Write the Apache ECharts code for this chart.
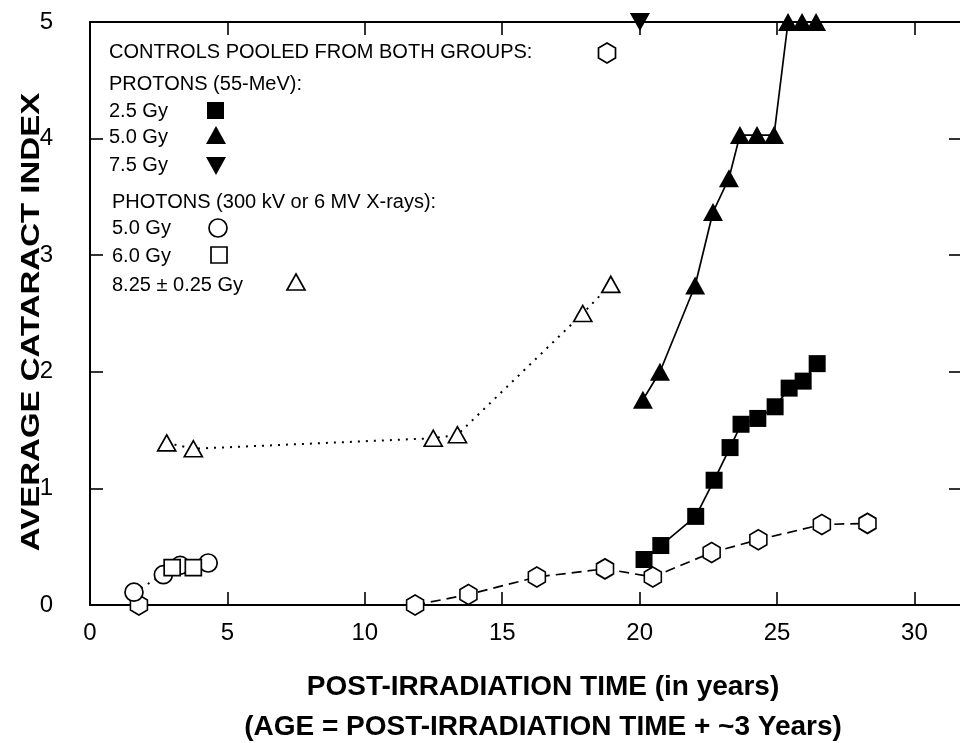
<!DOCTYPE html>
<html><head><meta charset="utf-8">
<script src="https://cdn.jsdelivr.net/npm/echarts@6/dist/echarts.min.js"></script>
<style>html,body{margin:0;padding:0;background:#fff}#c{width:960px;height:743px}</style>
</head><body><div id="c"></div>
<script>
// ---- data ----
const xTicks = [0, 5, 10, 15, 20, 25, 30];
const yTicks = [0, 1, 2, 3, 4, 5];

const controlsEarlyX = [1.78];
const controlsEarlyY = [0.0];
const controlsX = [11.83, 13.77, 16.26, 18.74, 20.48, 22.62, 24.32, 26.63, 28.29];
const controlsY = [0.0, 0.09, 0.24, 0.31, 0.24, 0.45, 0.56, 0.69, 0.70];

const proton25X = [20.16, 20.77, 22.04, 22.71, 23.29, 23.69, 24.30, 24.93, 25.44, 25.95, 26.46];
const proton25Y = [0.39, 0.51, 0.76, 1.07, 1.35, 1.55, 1.60, 1.70, 1.86, 1.92, 2.07];

const proton50X = [20.12, 20.74, 22.02, 22.67, 23.25, 23.65, 24.27, 24.89, 25.40, 25.91, 26.42];
const proton50Y = [1.76, 2.00, 2.74, 3.37, 3.66, 4.03, 4.03, 4.03, 5.0, 5.0, 5.0];

const proton75X = [20.01];
const proton75Y = [5.0];

const photon50X = [1.60, 2.67, 3.28, 4.30];
const photon50Y = [0.11, 0.26, 0.34, 0.36];

const photon60X = [2.99, 3.76];
const photon60Y = [0.32, 0.32];

const photon825X = [2.79, 3.76, 12.49, 13.37, 17.93, 18.95];
const photon825Y = [1.39, 1.34, 1.43, 1.46, 2.50, 2.75];

const legendLines = [
  'CONTROLS POOLED FROM BOTH GROUPS:',
  'PROTONS (55-MeV):',
  '2.5 Gy', '5.0 Gy', '7.5 Gy',
  'PHOTONS (300 kV or 6 MV X-rays):',
  '5.0 Gy', '6.0 Gy', '8.25 \u00b1 0.25 Gy'
];
const xTitle1 = 'POST-IRRADIATION TIME (in years)';
const xTitle2 = '(AGE = POST-IRRADIATION TIME + ~3 Years)';
const yTitle = 'AVERAGE CATARACT INDEX';

// ---- helpers ----
const zip = (xs, ys) => xs.map((x, i) => [x, ys[i]]);
const HEX = 'path://M0,-10 L8.66,-5 L8.66,5 L0,10 L-8.66,5 L-8.66,-5 Z';
const FONT = '"Liberation Sans", Arial, Helvetica, sans-serif';
const openStyle = { color: '#fff', borderColor: '#000', borderWidth: 1.7 };
const fillStyle = { color: '#000', borderColor: '#000', borderWidth: 0 };

function lineSeries(name, data, symbol, size, itemStyle, lineType, showLine, lw) {
  return {
    name, type: 'line', data, symbol, symbolSize: size, clip: false,
    showSymbol: true, itemStyle,
    lineStyle: showLine === false ? { width: 0, opacity: 0 } : { color: '#000', width: lw || 1.7, type: lineType },
    emphasis: { disabled: true }, animation: false, z: 3
  };
}

const chart = echarts.init(document.getElementById('c'), null, { renderer: 'canvas' });

function axisBase(showLine) {
  return {
    type: 'value', min: 0,
    axisLine: { show: showLine !== false, onZero: false, lineStyle: { color: '#000', width: 2 } },
    axisTick: { show: true, inside: true, length: 13, lineStyle: { color: '#000', width: 1.6 } },
    splitLine: { show: false }
  };
}

// legend graphics
const lx = 109, lx2 = 112;
const rows = [53, 85, 112, 138, 166, 203, 229, 257, 286];
const g = [];
legendLines.forEach((t, i) => {
  g.push({ type: 'text', left: i >= 5 ? lx2 : lx, top: rows[i] - 11,
    style: { text: t, font: '20px ' + FONT, fill: '#000' } });
});
function hexPoints(cx, cy, w, h) {
  return [[cx, cy - h / 2], [cx + w / 2, cy - h / 4], [cx + w / 2, cy + h / 4], [cx, cy + h / 2], [cx - w / 2, cy + h / 4], [cx - w / 2, cy - h / 4]];
}
g.push({ type: 'polygon', shape: { points: hexPoints(607, 53, 17, 20) }, style: { fill: '#fff', stroke: '#000', lineWidth: 1.7 } });
g.push({ type: 'rect', shape: { x: 207, y: 102, width: 17, height: 17 }, style: { fill: '#000' } });
g.push({ type: 'polygon', shape: { points: [[216, 126], [226, 144], [206, 144]] }, style: { fill: '#000' } });
g.push({ type: 'polygon', shape: { points: [[206, 157], [226, 157], [216, 175]] }, style: { fill: '#000' } });
g.push({ type: 'circle', shape: { cx: 218, cy: 228, r: 9 }, style: { fill: '#fff', stroke: '#000', lineWidth: 1.7 } });
g.push({ type: 'rect', shape: { x: 211, y: 247, width: 16, height: 16 }, style: { fill: '#fff', stroke: '#000', lineWidth: 1.7 } });
g.push({ type: 'polygon', shape: { points: [[296, 274], [305, 290], [287, 290]] }, style: { fill: '#fff', stroke: '#000', lineWidth: 1.7 } });
// axis titles
g.push({ type: 'text', x: 543, y: 673, style: { text: xTitle1, font: 'bold 28px ' + FONT, fill: '#000', align: 'center' } });
g.push({ type: 'text', x: 543, y: 713, style: { text: xTitle2, font: 'bold 28px ' + FONT, fill: '#000', align: 'center' } });
g.push({ type: 'text', x: 19, y: 322, rotation: Math.PI / 2, scaleY: 0.8,
  style: { text: yTitle, font: 'bold 33px ' + FONT, fill: '#000', align: 'center', verticalAlign: 'top' } });

const option = {
  backgroundColor: '#fff',
  animation: false,
  grid: { left: 90, top: 22, width: 872, height: 583, containLabel: false, outerBoundsMode: 'none' },
  xAxis: [
    Object.assign(axisBase(), { position: 'bottom', max: 31.73, interval: 5,
      axisLabel: { show: true, margin: 16, fontSize: 24, color: '#000', fontFamily: FONT,
        formatter: v => xTicks.indexOf(v) >= 0 ? String(v) : '' } }),
    Object.assign(axisBase(), { position: 'top', max: 31.73, interval: 5, axisLabel: { show: false } })
  ],
  yAxis: [
    Object.assign(axisBase(), { position: 'left', max: 5, interval: 1,
      axisLabel: { show: true, margin: 37, fontSize: 24, color: '#000', fontFamily: FONT,
        formatter: v => yTicks.indexOf(v) >= 0 ? String(v) : '' } }),
    Object.assign(axisBase(false), { position: 'right', max: 5, interval: 1, axisLabel: { show: false } })
  ],
  graphic: g,
  series: [
    lineSeries('Controls early', zip(controlsEarlyX, controlsEarlyY), HEX, [17, 20], openStyle, 'solid', false),
    lineSeries('Controls', zip(controlsX, controlsY), HEX, [17, 20], openStyle, [10, 6]),
    lineSeries('Photons 5.0 Gy', zip(photon50X, photon50Y), 'circle', 18, openStyle, [2, 6], true, 2),
    lineSeries('Photons 6.0 Gy', zip(photon60X, photon60Y), 'rect', 16, openStyle, 'solid', false),
    lineSeries('Photons 8.25 Gy', zip(photon825X, photon825Y), 'triangle', [18, 16], openStyle, [2, 6], true, 2),
    lineSeries('Protons 2.5 Gy', zip(proton25X, proton25Y), 'rect', 17, fillStyle, 'solid'),
    lineSeries('Protons 5.0 Gy', zip(proton50X, proton50Y), 'triangle', [20, 18], fillStyle, 'solid'),
    lineSeries('Protons 7.5 Gy', zip(proton75X, proton75Y), 'path://M0,0 L20,0 L10,18 Z', [20, 18], fillStyle, 'solid', false)
  ]
};
chart.setOption(option);
</script>
</body></html>
